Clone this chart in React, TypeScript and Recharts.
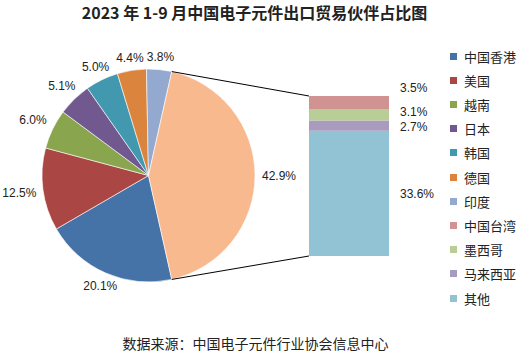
import React from "react";
import { PieChart, Pie, Cell, BarChart, Bar, XAxis, YAxis, LabelList } from "recharts";

// pie part: 7 partners + the rest, which is split out into the bar
const pieNames = ["中国香港", "美国", "越南", "日本", "韩国", "德国", "印度", "其他合计"];
const pieValues = [20.1, 12.5, 6.0, 5.1, 5.0, 4.4, 3.8, 42.9];
const pieColors = ["#4572A7", "#AA4643", "#89A54E", "#71588F", "#4198AF", "#DB843D", "#93A9CF", "#F8B98F"];

// bar part, bottom to top
const barNames = ["其他", "马来西亚", "墨西哥", "中国台湾"];
const barValues = [33.6, 2.7, 3.1, 3.5];
const barColors = ["#92C3D4", "#A99BBD", "#B9CD96", "#D19392"];
const barLabelShift = [1, 1.5, -2.5, -14.5];

const legendNames = ["中国香港", "美国", "越南", "日本", "韩国", "德国", "印度", "中国台湾", "墨西哥", "马来西亚", "其他"];
const legendColors = ["#4572A7", "#AA4643", "#89A54E", "#71588F", "#4198AF", "#DB843D", "#93A9CF", "#D19392", "#B9CD96", "#A99BBD", "#92C3D4"];

const title = "2023 年 1-9 月中国电子元件出口贸易伙伴占比图";
const source = "数据来源：中国电子元件行业协会信息中心";

const W = 521;
const H = 356;
const PIE_CX = 148.5;
const PIE_CY = 175.5;
const PIE_R = 106.5;
const BAR_LEFT = 309;
const BAR_RIGHT = 389;
const BAR_TOP = 96;
const BAR_BOTTOM = 256;

const RAD = Math.PI / 180;
const CJK = '"Noto Sans CJK SC", "Noto Sans", sans-serif';
const NUM = '"Liberation Sans", Arial, sans-serif';

const pieData = pieNames.map((name, i) => ({ name, value: pieValues[i] }));
const pieTotal = pieValues.reduce((a, b) => a + b, 0);
const restShare = pieValues[pieValues.length - 1] / pieTotal;
// rest slice centred on 3 o'clock, slices go clockwise
const startAngle = -restShare * 180;
const endAngle = startAngle - 360;

const barRow: Record<string, number | string> = { name: "其他" };
barNames.forEach((n, i) => (barRow[n] = barValues[i]));
const barData = [barRow];
const barTotal = barValues.reduce((a, b) => a + b, 0);

const renderPieLabel = (props: any) => {
  const { cx, cy, midAngle, outerRadius, value } = props;
  const c = Math.cos(-midAngle * RAD);
  const s = Math.sin(-midAngle * RAD);
  const r = outerRadius + 12 + 12 * c * c;
  return (
    <text
      x={cx + r * c}
      y={cy + r * s}
      textAnchor="middle"
      dominantBaseline="central"
      fontSize={12}
      fontFamily={NUM}
      fill="#222"
    >
      {value.toFixed(1)}%
    </text>
  );
};

const makeBarLabel = (shift: number) => (props: any) => {
  const { x, y, width, height, value } = props;
  return (
    <text
      x={x + width + 11}
      y={y + height / 2 + shift}
      textAnchor="start"
      dominantBaseline="central"
      fontSize={12}
      fontFamily={NUM}
      fill="#222"
    >
      {Number(value).toFixed(1)}%
    </text>
  );
};

export default function App() {
  const topA = (startAngle - 360 * (1 - restShare)) * RAD;
  const botA = startAngle * RAD;
  const top = { x: PIE_CX + PIE_R * Math.cos(topA), y: PIE_CY - PIE_R * Math.sin(topA) };
  const bot = { x: PIE_CX + PIE_R * Math.cos(botA), y: PIE_CY - PIE_R * Math.sin(botA) };

  return (
    <div style={{ position: "relative", width: W, height: H, background: "#fff", fontFamily: CJK }}>
      <style>{`body{margin:0}`}</style>
      <div
        style={{
          position: "absolute",
          top: 1,
          left: -6,
          width: W,
          textAlign: "center",
          fontSize: 16,
          fontWeight: "bold",
          color: "#222",
          lineHeight: "22px",
        }}
      >
        {title}
      </div>

      <div style={{ position: "absolute", left: 0, top: 0 }}>
        <PieChart width={W} height={H} margin={{ top: 0, right: 0, bottom: 0, left: 0 }}>
          <Pie
            data={pieData}
            dataKey="value"
            cx={PIE_CX}
            cy={PIE_CY}
            outerRadius={PIE_R}
            startAngle={startAngle}
            endAngle={endAngle}
            stroke="#fff"
            strokeWidth={0.6}
            label={renderPieLabel}
            labelLine={false}
            isAnimationActive={false}
          >
            {pieData.map((d, i) => (
              <Cell key={d.name} fill={pieColors[i]} />
            ))}
          </Pie>
        </PieChart>
      </div>

      <div style={{ position: "absolute", left: 0, top: 0 }}>
        <BarChart
          width={W}
          height={H}
          data={barData}
          barCategoryGap={0}
          margin={{ top: BAR_TOP, right: W - BAR_RIGHT, bottom: H - BAR_BOTTOM, left: BAR_LEFT }}
        >
          <XAxis dataKey="name" hide />
          <YAxis type="number" domain={[0, barTotal]} allowDataOverflow hide />
          {barNames.map((n, i) => (
            <Bar key={n} dataKey={n} stackId="rest" fill={barColors[i]} isAnimationActive={false}>
              <LabelList dataKey={n} content={makeBarLabel(barLabelShift[i])} />
            </Bar>
          ))}
        </BarChart>
      </div>

      <svg width={W} height={H} style={{ position: "absolute", left: 0, top: 0, pointerEvents: "none" }}>
        <line x1={top.x} y1={top.y} x2={BAR_LEFT} y2={BAR_TOP} stroke="#000" strokeWidth={1} />
        <line x1={bot.x} y1={bot.y} x2={BAR_LEFT} y2={BAR_BOTTOM} stroke="#000" strokeWidth={1} />
      </svg>

      {legendNames.map((n, i) => (
        <div
          key={n}
          style={{
            position: "absolute",
            left: 450,
            top: 56 + i * 24.2 - 9,
            height: 18,
            display: "flex",
            alignItems: "center",
            fontSize: 13,
            color: "#222",
            whiteSpace: "nowrap",
          }}
        >
          <span style={{ display: "inline-block", width: 7, height: 7, background: legendColors[i], marginRight: 7 }} />
          {n}
        </div>
      ))}

      <div
        style={{
          position: "absolute",
          top: 333,
          left: -5,
          width: W,
          textAlign: "center",
          fontSize: 14,
          color: "#222",
          lineHeight: "20px",
        }}
      >
        {source}
      </div>
    </div>
  );
}
